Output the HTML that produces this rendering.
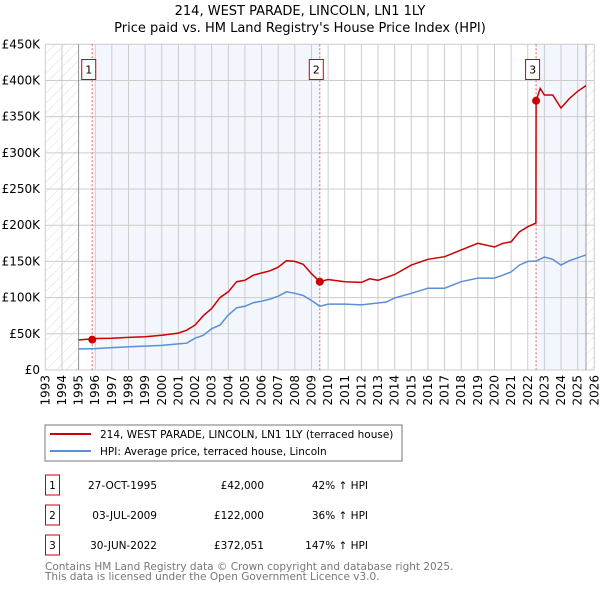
<!DOCTYPE html>
<html><head><meta charset="utf-8"><style>
body{margin:0;background:#fff;font-family:"DejaVu Sans","Liberation Sans",sans-serif;}
svg{display:block}
</style></head><body>
<svg id="c" width="600" height="590" viewBox="0 0 600 590">
<defs><pattern id="hatch" width="7" height="7" patternUnits="userSpaceOnUse" patternTransform="rotate(45)"><line x1="0" y1="0" x2="0" y2="7" stroke="#d4d4d4" stroke-width="0.8"/></pattern></defs>
<text x="300" y="15" text-anchor="middle" font-size="13">214, WEST PARADE, LINCOLN, LN1 1LY</text>
<text x="300" y="32" text-anchor="middle" font-size="13">Price paid vs. HM Land Registry's House Price Index (HPI)</text>
<g id="plot"></g>
<rect x="45" y="425" width="357" height="36" fill="#fff" stroke="#777"/>
<line x1="50" y1="434" x2="91" y2="434" stroke="#cc0000" stroke-width="2"/>
<text x="100" y="438" font-size="10.5">214, WEST PARADE, LINCOLN, LN1 1LY (terraced house)</text>
<line x1="50" y1="451" x2="91" y2="451" stroke="#5b8fd4" stroke-width="2"/>
<text x="100" y="455" font-size="10.5">HPI: Average price, terraced house, Lincoln</text>
<g id="table" font-size="10.5"></g>
<text x="45" y="570" font-size="10.5" fill="#777">Contains HM Land Registry data © Crown copyright and database right 2025.</text>
<text x="45" y="580" font-size="10.5" fill="#777">This data is licensed under the Open Government Licence v3.0.</text>
</svg>
<script>
const yearTicks=[1993,1994,1995,1996,1997,1998,1999,2000,2001,2002,2003,2004,2005,2006,2007,2008,2009,2010,2011,2012,2013,2014,2015,2016,2017,2018,2019,2020,2021,2022,2023,2024,2025,2026];
const priceTicks=[0,50,100,150,200,250,300,350,400,450];
const priceTickLabels=["£0","£50K","£100K","£150K","£200K","£250K","£300K","£350K","£400K","£450K"];
const hpiYears=[1995,1996,1997,1998,1999,2000,2001,2001.5,2002,2002.5,2003,2003.5,2004,2004.5,2005,2005.5,2006,2006.5,2007,2007.5,2008,2008.5,2009,2009.5,2010,2011,2012,2013,2013.5,2014,2015,2016,2017,2018,2019,2020,2020.5,2021,2021.5,2022,2022.5,2023,2023.5,2024,2024.5,2025,2025.5];
const hpiValues=[29,29.5,31,32,33,34,36,37,44,48,57,62,76,86,88,93,95,98,102,108,106,103,96,88,91,91,90,92.6,94,99.5,106,113,113,122,127,127,131,135.6,145,150,150.6,156,153,145,151,155,159];
const propYears=[1995,1996,1997,1998,1999,2000,2001,2001.5,2002,2002.5,2003,2003.5,2004,2004.5,2005,2005.5,2006,2006.5,2007,2007.5,2008,2008.5,2009,2009.5,2010,2011,2012,2012.5,2013,2013.5,2014,2015,2016,2017,2018,2019,2020,2020.5,2021,2021.5,2022,2022.49,2022.5,2022.75,2023,2023.5,2024,2024.5,2025,2025.5];
const propValues=[41.5,43.5,44,45,46,48,51,55,62,75,85,100,108,122,124,131,134,137,142,151,150,146,133,122,125,122,121,126,124,128,132,145,153,156.5,166,175,170,175,177,191,198,203,372,389,380,380,362,375,385,393];
const saleLabels=["1","2","3"];
const saleYears=[1995.82,2009.5,2022.5];
const salePrices=[42,122,372.051];
const saleDates=["27-OCT-1995","03-JUL-2009","30-JUN-2022"];
const salePriceText=["£42,000","£122,000","£372,051"];
const saleHpiText=["42% ↑ HPI","36% ↑ HPI","147% ↑ HPI"];

const X0=45.3,X1=594.3,Y0=370,Y1=44.3;
const xs=y=>X0+(y-1993)/(2026-1993)*(X1-X0);
const ys=v=>Y0-v/450*(Y0-Y1);
const NS="http://www.w3.org/2000/svg";
const plot=document.getElementById('plot');
function mk(tag,attrs,parent){const e=document.createElementNS(NS,tag);for(const k in attrs)e.setAttribute(k,attrs[k]);(parent||plot).appendChild(e);return e;}

let r;
r=mk('rect',{x:xs(1996),y:Y1,width:xs(saleYears[1])-xs(1996),height:Y0-Y1,fill:'#f3f6fd'});


r=mk('rect',{x:xs(saleYears[2]),y:Y1,width:xs(2025.5)-xs(saleYears[2]),height:Y0-Y1,fill:'#f3f6fd'});


r=mk('rect',{x:X0,y:Y1,width:xs(1995)-X0,height:Y0-Y1,fill:'url(#hatch)'});


r=mk('rect',{x:xs(2025.5),y:Y1,width:X1-xs(2025.5),height:Y0-Y1,fill:'url(#hatch)'});



yearTicks.forEach(y=>{
  const l=mk('line',{x1:xs(y),x2:xs(y),y1:Y1,y2:Y0,stroke:'#ccc','stroke-width':1});
  
  
  const t=mk('text',{x:0,y:0,'font-size':12,'text-anchor':'end',transform:`translate(${xs(y)+4},375) rotate(-90)`});
  t.textContent=y;
  
  
});
priceTicks.forEach((v,i)=>{
  const l=mk('line',{x1:X0,x2:X1,y1:ys(v),y2:ys(v),stroke:'#ccc','stroke-width':1});
  
  
  const t=mk('text',{x:40,y:ys(v)+4,'font-size':12,'text-anchor':'end'});
  t.textContent=priceTickLabels[i];
  
  
});
r=mk('line',{x1:xs(1995),x2:xs(1995),y1:Y1,y2:Y0,stroke:'#999'});


r=mk('line',{x1:xs(2025.5),x2:xs(2025.5),y1:Y1,y2:Y0,stroke:'#999'});



saleYears.forEach((y,i)=>{
  const l=mk('line',{x1:xs(y),x2:xs(y),y1:Y1,y2:Y0,stroke:'#e06060','stroke-dasharray':'2,2','stroke-width':1});
  
  
  const b=mk('rect',{x:xs(y)-10.5,y:59.5,width:14,height:20,fill:'#fff',stroke:'#cc0000'});
  
  
  const t=mk('text',{x:xs(y)-3.5,y:73.5,'font-size':11,'text-anchor':'middle'});
  t.textContent=saleLabels[i];
  
  
});

let p=mk('path',{d:hpiYears.map((y,i)=>(i?'L':'M')+xs(y).toFixed(1)+','+ys(hpiValues[i]).toFixed(1)).join(''),fill:'none',stroke:'#5b8fd4','stroke-width':1.5});


p=mk('path',{d:propYears.map((y,i)=>(i?'L':'M')+xs(y).toFixed(1)+','+ys(propValues[i]).toFixed(1)).join(''),fill:'none',stroke:'#cc0000','stroke-width':1.5});


saleYears.forEach((y,i)=>{
  const c=mk('circle',{cx:xs(y),cy:ys(salePrices[i]),r:4,fill:'#cc0000'});
  
  
});

const tb=document.getElementById('table');
saleLabels.forEach((s,i)=>{
  const cy=485+i*30;
  const b=mk('rect',{x:45.5,y:cy-10,width:14,height:20,fill:'#fff',stroke:'#cc0000'},tb);
  
  
  const cells=[[52.5,'middle',s,'table-row-number'],[157,'end',saleDates[i],'table-row-date'],[264,'end',salePriceText[i],'table-row-price'],[368,'end',saleHpiText[i],'table-row-hpi']];
  cells.forEach(c=>{
    const t=mk('text',{x:c[0],y:cy+4,'text-anchor':c[1]},tb);
    t.textContent=c[2];
    
    
  });
});
</script>
</body></html>
